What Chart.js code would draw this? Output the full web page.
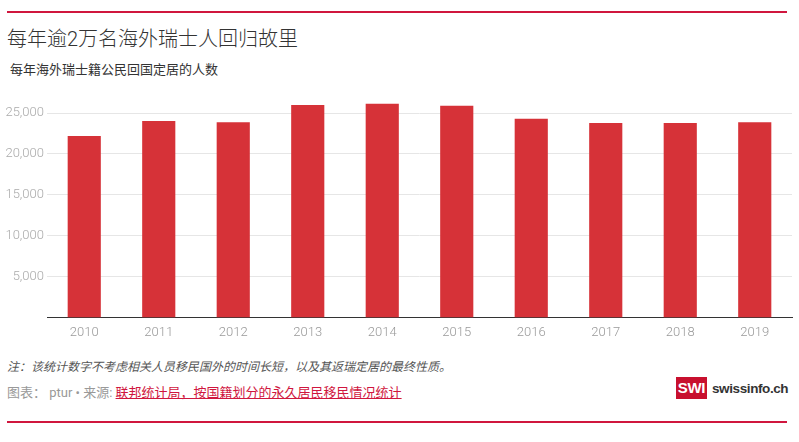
<!DOCTYPE html>
<html>
<head>
<meta charset="utf-8">
<script src="https://cdn.jsdelivr.net/npm/chart.js@4/dist/chart.umd.min.js"></script>
<style>
  body { margin: 0; width: 799px; height: 442px; background: #fff; position: relative; overflow: hidden;
         font-family: Roboto, "Noto Sans CJK SC", sans-serif; }
  .rule { position: absolute; left: 7px; width: 780px; height: 2px; background: #d0163e; }
  .title { position: absolute; left: 7px; top: 23px; font-size: 20px; color: #333; font-weight: 300; }
  .sub { position: absolute; left: 10px; top: 59px; font-size: 13px; color: #333; }
  .note { position: absolute; left: 7px; top: 357px; font-size: 12px; color: #555; font-style: italic; }
  .src { position: absolute; left: 7px; top: 382px; font-size: 13px; color: #999; }
  .src a { color: #d0163e; text-decoration: underline; }
  .logo { position: absolute; left: 676px; top: 377px; height: 22px; display: flex; align-items: center; }
  .logo .box { background: #c8102e; color: #fff; font: bold 15px "Liberation Sans", sans-serif; width: 31px; height: 22px;
               line-height: 22px; text-align: center; letter-spacing: -0.3px; }
  .logo .txt { margin-left: 5px; font: bold 13.5px "Liberation Sans", sans-serif; color: #333; letter-spacing: -0.4px; }
  #wrap { position: absolute; left: 0; top: 86px; width: 799px; height: 263px; }
</style>
</head>
<body>
<div class="rule" style="top:11px"></div>
<div class="title">每年逾2万名海外瑞士人回归故里</div>
<div class="sub">每年海外瑞士籍公民回国定居的人数</div>
<div id="wrap"><canvas id="chart"></canvas></div>
<div class="note">注：该统计数字不考虑相关人员移民国外的时间长短，以及其返瑞定居的最终性质。</div>
<div class="src">图表： ptur • 来源: <a>联邦统计局，按国籍划分的永久居民移民情况统计</a></div>
<div class="logo"><div class="box">SWI</div><div class="txt">swissinfo.ch</div></div>
<div class="rule" style="top:421px"></div>
<script>
const years = ["2010", "2011", "2012", "2013", "2014", "2015", "2016", "2017", "2018", "2019"];
const returnees = [22200, 24050, 23900, 26000, 26150, 25900, 24300, 23800, 23800, 23900];
const yTicks = [5000, 10000, 15000, 20000, 25000];

new Chart(document.getElementById("chart"), {
  type: "bar",
  data: {
    labels: years,
    datasets: [{
      data: returnees,
      backgroundColor: "#d63238",
      barPercentage: 0.445,
      categoryPercentage: 1,
    }],
  },
  options: {
    responsive: true,
    maintainAspectRatio: false,
    animation: false,
    layout: { padding: { top: 4, right: 7, left: 0, bottom: 0 } },
    plugins: { legend: { display: false }, tooltip: { enabled: false } },
    scales: {
      x: {
        grid: { display: false, drawTicks: false },
        border: { display: true, color: "#333", width: 1 },
        ticks: {
          color: "#999",
          padding: 8,
          font: { size: 13, family: "Roboto", weight: 300 },
        },
      },
      y: {
        min: 0,
        max: 27000,
        afterBuildTicks: (scale) => {
          scale.ticks = yTicks.map((v) => ({ value: v }));
        },
        afterFit: (scale) => { scale.width = 47; },
        grid: { color: "#e6e6e6", drawTicks: false },
        border: { display: false },
        ticks: {
          color: "#aaa",
          padding: 3,
          font: { size: 13, family: "Roboto", weight: 300 },
          callback: (v) => v.toLocaleString("en-US"),
        },
      },
    },
  },
});
</script>
</body>
</html>
